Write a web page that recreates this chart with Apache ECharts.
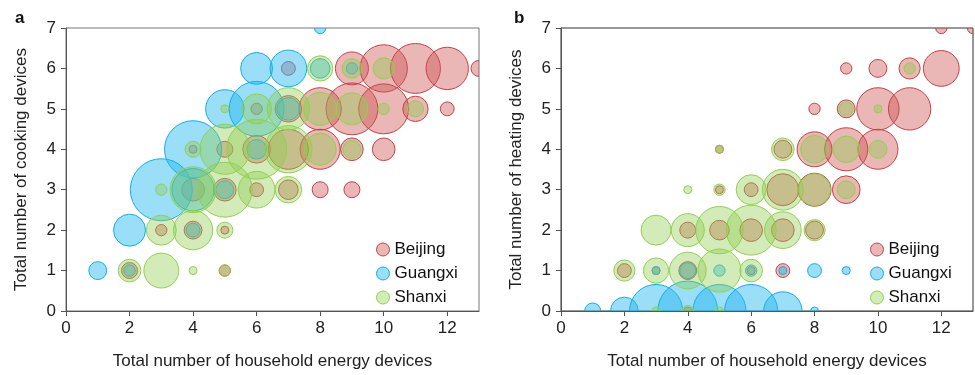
<!DOCTYPE html>
<html>
<head>
<meta charset="utf-8">
<script src="https://cdn.jsdelivr.net/npm/echarts@6/dist/echarts.min.js"></script>
<style>
  html, body { margin: 0; padding: 0; background: #fff; }
  #chart { width: 975px; height: 375px; }
</style>
</head>
<body>
<div id="chart"></div>
<script>
// [total devices, cooking/heating devices, households]
const bjCook = [
  [7,6,3],[9,6,17],[10,6,35],[11,6,39],[12,6,28],[13,6,4],
  [6,5,2],[7,5,11],[8,5,28],[9,5,42],[10,5,39],[11,5,10],[12,5,3],
  [4,4,1],[5,4,4],[6,4,12],[7,4,25],[8,4,25],[9,4,8],[10,4,8],
  [4,3,8],[5,3,8],[6,3,3],[7,3,6],[8,3,4],[9,3,4],
  [3,2,2],[4,2,5],[5,2,1],
  [2,1,4],[5,1,2]
];
const gxCook = [
  [8,7,2],
  [6,6,16],[7,6,21],[8,6,6],[9,6,2],
  [5,5,23],[6,5,47],[7,5,8],
  [4,4,51],[6,4,6],
  [3,3,60],[4,3,28],[5,3,5],
  [2,2,16],[4,2,3],
  [1,1,5],[2,1,2]
];
const sxCook = [
  [8,6,10],[9,6,6],[10,6,7],
  [5,5,1],[6,5,14],[7,5,28],[8,5,17],[9,5,16],[10,5,2],[11,5,4],
  [4,4,4],[5,4,39],[6,4,56],[7,4,35],[8,4,16],[9,4,5],
  [3,3,2],[4,3,33],[5,3,47],[6,3,21],[7,3,11],
  [3,2,14],[4,2,24],[5,2,4],
  [2,1,8],[3,1,19],[4,1,1],[5,1,2]
];
const bjHeat = [
  [12,7,2],[13,7,2],
  [9,6,2],[10,6,5],[11,6,7],[12,6,20],
  [8,5,2],[9,5,5],[10,5,28],[11,5,28],
  [5,4,1],[7,4,5],[8,4,19],[9,4,29],[10,4,25],
  [5,3,1],[6,3,3],[7,3,16],[8,3,17],[9,3,12],
  [4,2,4],[5,2,6],[6,2,8],[7,2,8],[8,2,5],
  [2,1,3],[3,1,1],[4,1,5],[6,1,1],[7,1,3],
  [4,0,1]
];
const gxHeat = [
  [3,1,1],[4,1,4],[5,1,2],[6,1,2],[7,1,1],[8,1,3],[9,1,1],
  [1,0,4],[2,0,12],[3,0,44],[4,0,56],[5,0,44],[6,0,44],[7,0,23],[8,0,1]
];
const sxHeat = [
  [11,6,2],
  [9,5,3],[10,5,1],
  [5,4,1],[7,4,8],[8,4,12],[9,4,11],[10,4,5],
  [4,3,1],[5,3,2],[6,3,14],[7,3,26],[8,3,16],[9,3,5],
  [3,2,14],[4,2,17],[5,2,35],[6,2,39],[7,2,21],[8,2,7],
  [2,1,7],[3,1,10],[4,1,21],[5,1,29],[6,1,8],
  [3,0,1],[4,0,2],[5,0,1]
];
const xTicks = [0,2,4,6,8,10,12];
const yTicks = [0,1,2,3,4,5,6,7];

const font = 'Liberation Sans, Arial, sans-serif';
const colors = {
  Beijing: { fill: 'rgba(204,82,82,0.42)', line: '#c24446' },
  Guangxi: { fill: 'rgba(40,185,240,0.47)', line: '#13aee8' },
  Shanxi: { fill: 'rgba(145,205,80,0.4)', line: '#8fd14f' }
};

// custom series so the bubbles get clipped at the plot box
function bubble(name, data, idx) {
  const c = colors[name];
  return {
    name: name,
    type: 'custom',
    xAxisIndex: idx,
    yAxisIndex: idx,
    data: data,
    clip: true,
    encode: { x: 0, y: 1 },
    itemStyle: { color: c.fill, borderColor: c.line, borderWidth: 1 },
    renderItem: function (params, api) {
      const p = api.coord([api.value(0), api.value(1)]);
      return {
        type: 'circle',
        shape: { cx: p[0], cy: p[1], r: Math.sqrt(api.value(2)) * 4 },
        style: { fill: c.fill, stroke: c.line, lineWidth: 1 }
      };
    },
    emphasis: { disabled: true }
  };
}

function xAxis(idx) {
  return {
    type: 'value', gridIndex: idx, min: 0, max: 13, interval: 1,
    name: 'Total number of household energy devices',
    nameLocation: 'middle', nameGap: 42,
    nameTextStyle: { fontFamily: font, fontSize: 17, color: '#222' },
    axisLine: { lineStyle: { color: '#555' } },
    axisTick: { show: true, length: 5, lineStyle: { color: '#555' }, customValues: xTicks },
    axisLabel: { fontFamily: font, fontSize: 17, color: '#222', margin: 9, customValues: xTicks },
    splitLine: { show: false }
  };
}

function yAxis(idx, title) {
  return {
    type: 'value', gridIndex: idx, min: 0, max: 7, interval: 1,
    name: title,
    nameLocation: 'middle', nameGap: 36, nameRotate: 90,
    nameTextStyle: { fontFamily: font, fontSize: 17, color: '#222' },
    axisLine: { show: true, lineStyle: { color: '#555' } },
    axisTick: { show: true, length: 5, lineStyle: { color: '#555' }, customValues: yTicks },
    axisLabel: { fontFamily: font, fontSize: 17, color: '#222', margin: 10, customValues: yTicks },
    splitLine: { show: false }
  };
}

function legend(left) {
  const names = ['Beijing', 'Guangxi', 'Shanxi'];
  return {
    orient: 'vertical', left: left, top: 236, itemGap: 7,
    itemWidth: 13, itemHeight: 13, icon: 'circle',
    textStyle: { fontFamily: font, fontSize: 17, color: '#111' },
    data: names.map(function (n) {
      return { name: n, itemStyle: { color: colors[n].fill, borderColor: colors[n].line, borderWidth: 1 } };
    }),
    selectedMode: false
  };
}

const chart = echarts.init(document.getElementById('chart'));
chart.setOption({
  animation: false,
  backgroundColor: '#fff',
  title: [
    { text: 'a', left: 10, top: 5, textStyle: { fontFamily: font, fontSize: 17, fontWeight: 'bold', color: '#111' } },
    { text: 'b', left: 509, top: 5, textStyle: { fontFamily: font, fontSize: 17, fontWeight: 'bold', color: '#111' } }
  ],
  legend: [legend(371), legend(865)],
  grid: [
    { left: 66, top: 28, width: 413, height: 286, show: true, borderColor: '#777', borderWidth: 1 },
    { left: 561, top: 28, width: 412, height: 286, show: true, borderColor: '#333', borderWidth: 1 }
  ],
  xAxis: [xAxis(0), xAxis(1)],
  yAxis: [yAxis(0, 'Total number of cooking devices'), yAxis(1, 'Total number of heating devices')],
  series: [
    bubble('Beijing', bjCook, 0),
    bubble('Guangxi', gxCook, 0),
    bubble('Shanxi', sxCook, 0),
    bubble('Beijing', bjHeat, 1),
    bubble('Guangxi', gxHeat, 1),
    bubble('Shanxi', sxHeat, 1)
  ]
});
</script>
</body>
</html>
